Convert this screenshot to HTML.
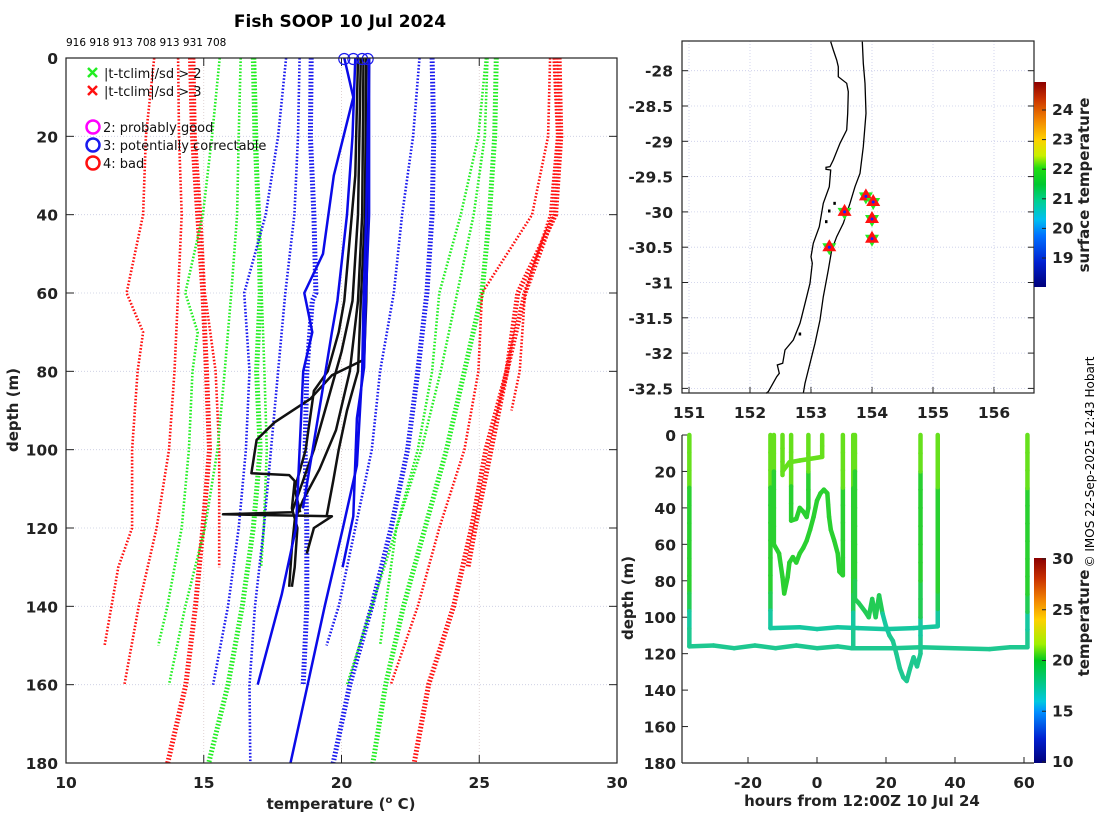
<!DOCTYPE html>
<html><head><meta charset="utf-8"><style>
html,body{margin:0;padding:0;background:#fff;}
svg{display:block;font-family:"DejaVu Sans","Liberation Sans",sans-serif;}
.tk{font-size:15.5px;font-weight:bold;fill:#222;}
.lb{font-size:15px;font-weight:bold;fill:#222;}
.lg{font-size:13px;fill:#111;}
</style></head><body>
<svg id="fig" width="1100" height="820" viewBox="0 0 1100 820" xmlns="http://www.w3.org/2000/svg">
<defs>
<linearGradient id="cbMap" x1="0" y1="1" x2="0" y2="0">
<stop offset="0" stop-color="#00007a"/><stop offset="0.12" stop-color="#0020d0"/><stop offset="0.25" stop-color="#0070ff"/><stop offset="0.33" stop-color="#00c0f0"/><stop offset="0.42" stop-color="#00d090"/><stop offset="0.5" stop-color="#00c830"/><stop offset="0.58" stop-color="#20dd10"/><stop offset="0.64" stop-color="#c8f000"/><stop offset="0.72" stop-color="#ffd000"/><stop offset="0.82" stop-color="#f08000"/><stop offset="0.92" stop-color="#c83000"/><stop offset="1" stop-color="#8b0000"/>
</linearGradient>
<linearGradient id="cbBot" x1="0" y1="1" x2="0" y2="0">
<stop offset="0" stop-color="#00007a"/><stop offset="0.12" stop-color="#0020d0"/><stop offset="0.25" stop-color="#0090ff"/><stop offset="0.3" stop-color="#00c8e0"/><stop offset="0.38" stop-color="#00c890"/><stop offset="0.5" stop-color="#00c820"/><stop offset="0.58" stop-color="#a0f000"/><stop offset="0.7" stop-color="#ffd000"/><stop offset="0.8" stop-color="#f08000"/><stop offset="0.9" stop-color="#c83000"/><stop offset="1" stop-color="#8b0000"/>
</linearGradient>
</defs>
<text x="340" y="27" text-anchor="middle" style="font-size:17px;font-weight:bold">Fish SOOP 10 Jul 2024</text>
<text x="66" y="46" style="font-size:10.5px">916 918 913 708 913 931 708</text>
<g id="left"></g>
<g id="map"></g>
<g id="bot"></g>
<text transform="translate(1094,462) rotate(-90)" text-anchor="middle" style="font-size:12px">© IMOS 22-Sep-2025 12:43 Hobart</text>
</svg>
<script>
// ---------- left profile plot data ----------
const climDepths = {
 R1:[0,20,40,60,70,80,100,120,130,150], R2:[0,20,40,60,80,100,120,140,160],
 R3:[0,20,40,60,80,100,120,140,160,180], R4:[0,20,40,60,80,100,120,130],
 G1:[0,20,40,60,70,80,100,120,140,150], G2:[0,20,40,60,80,100,120,140,160],
 G3:[0,20,40,60,80,100,120,140,160,180], G4:[0,40,80,100,120,130],
 B1:[0,20,40,60,80,100,120,140,160], B2:[0,20,40,60,80,100,120,140,160,180],
 B3:[0,20,40,60,62,80,100,120,140,160], B4:[0,20,40,60,80,100,120,140,150],
 B5:[0,20,40,60,80,100,120,140,160,180], G5:[0,20,40,60,80,100,120,140,150],
 G6:[0,20,40,60,80,100,120,140,160,180], G7:[0,20,40,60,80,100,120,140,160],
 RA:[0,20,40,60,80,90], RB:[0,20,40,60,80,100,120,130],
 RC:[0,20,40,60,80,100,120,140,160], RD:[0,20,40,60,80,100,120,140,160,180]
};
const climTemps = {
 R1:[13.2,12.9,12.8,12.2,12.8,12.6,12.4,12.4,11.9,11.4],
 R2:[14.07,14.1,14.2,14.07,13.94,13.74,13.29,12.64,12.12],
 R3:[14.52,14.59,14.78,14.97,15.1,15.21,14.97,14.7,14.35,13.69],
 R4:[14.65,14.7,14.9,15.04,15.43,15.56,15.56,15.56],
 G1:[15.58,15.3,14.97,14.33,14.78,14.59,14.46,14.2,13.68,13.35],
 G2:[16.34,16.27,16.21,16.0,15.76,15.5,15.04,14.33,13.74],
 G3:[16.8,16.86,16.99,17.05,16.92,17.05,16.8,16.4,15.88,15.18],
 G4:[16.86,17.0,17.2,17.29,17.18,17.08],
 B1:[17.99,17.7,17.25,16.47,16.66,16.53,16.27,15.88,15.34],
 B2:[18.48,18.42,18.29,17.96,17.7,17.44,17.18,16.86,16.66,16.69],
 B3:[18.9,18.87,19.0,19.07,18.94,18.74,18.68,18.74,18.74,18.61],
 B4:[22.83,22.6,22.2,21.9,21.4,21.1,20.5,19.9,19.46],
 B5:[23.29,23.35,23.29,23.1,22.77,22.4,21.8,21.1,20.3,19.7],
 G5:[25.24,24.97,24.33,23.55,23.29,22.77,21.99,21.6,21.4],
 G6:[25.62,25.56,25.37,25.1,24.46,23.81,23.03,22.25,21.6,21.14],
 G7:[25.3,25.2,24.8,24.2,23.6,22.9,22.0,21.1,20.2],
 RA:[27.7,27.83,27.57,26.66,26.47,26.17],
 RB:[27.9,27.96,27.77,26.4,26.0,25.43,24.85,24.59],
 RC:[27.57,27.5,26.92,25.1,24.97,24.46,23.55,22.77,21.79],
 RD:[27.77,27.9,27.7,26.66,26.0,25.24,24.72,24.07,23.16,22.64]
};
const bundleLines = ['R3','G3','B3','B5','G6','RB','RD'];
const flaggedDepths = {
 SB1:[0,10,30,50,60,70,80,100,120,137,160],
 SB2:[0,40,62,80,104,120,140,161,180],
 SB3:[0,20,40,62,70,87,115],
 SB4:[0,40,62,79,92,117,130]
};
const flaggedTemps = {
 SB1:[20.1,20.43,19.72,19.33,18.65,18.94,18.61,18.48,18.35,17.83,16.96],
 SB2:[21.0,20.9,20.8,20.75,20.56,20.05,19.39,18.74,18.15],
 SB3:[20.5,20.4,20.2,19.85,19.65,19.26,18.6],
 SB4:[21.0,21.0,20.88,20.82,20.56,20.43,20.04]
};
const goodDepths = {
 K1:[0,40,62,77,81,87,93,97.5,106,106.5,108,115,120,130,135],
 K2:[0,40,62,75,90,100,110,116,116.5,117,120,126.5],
 K3:[0,40,62,80,95,105,113,118,125,135],
 K4:[0,40,62,80,90,100,108,117],
 K5:[0,30,62,70,80,85,95,100,110,116]
};
const goodTemps = {
 K1:[21.0,20.95,20.9,20.82,19.65,18.87,17.57,16.92,16.73,18.1,18.3,18.2,18.4,18.3,18.2],
 K2:[20.7,20.6,20.4,20.0,19.4,19.0,18.5,18.2,15.7,19.65,19.0,18.74],
 K3:[20.8,20.75,20.6,20.3,19.8,19.2,18.6,18.3,18.2,18.1],
 K4:[20.9,20.85,20.7,20.6,20.2,19.9,19.7,19.46],
 K5:[20.6,20.5,20.1,19.9,19.5,19.0,18.8,18.7,18.3,18.5]
};
const surfaceFlagTemps = [20.1,20.43,20.75,20.95];
const tempTicks = [10,15,20,25,30];
const depthTicks = [0,20,40,60,80,100,120,140,160,180];

// ---------- map data ----------
const lonTicks = [151,152,153,154,155,156];
const latTicks = [-28,-28.5,-29,-29.5,-30,-30.5,-31,-31.5,-32,-32.5];
const stnLon = [153.3,153.55,153.9,154.02,154.0,154.0];
const stnLat = [-30.5,-30.0,-29.78,-29.86,-30.1,-30.38];
const sstTicks = [19,20,21,22,23,24];

// ---------- time-depth data ----------
const hourTicks = [-20,0,20,40,60];
const botDepthTicks = [0,20,40,60,80,100,120,140,160,180];
const botTempTicks = [10,15,20,25,30];
const trkHours = {
 S1:[-37,-37,-30,-24,-18,-12,-6,0,6,10,16,22,30,40,50,56,61,61],
 S2:[-13.5,-13.5,-5,0,6,12,20,28,35,35],
 S3:[-12.5,-12.5,-11,-10,-9.5,-8.5,-8,-7,-6,-5,-4,-3,-2,-1,0,1,2,3,3.5,4,5,6,6.5,7.5,7.5],
 S4:[-10,-10],
 S5:[-10,-8,-5,0,1.5,1.5],
 S6:[-7.5,-7.5,-6,-5,-4,-3,-2.5,-2.5],
 S7:[10.5,10.5],
 S8:[11,11,12,14,15,16,17,18,19,20,21,22,23,24,25,26,27,28,29,30,30]
};
const trkDepths = {
 S1:[0,116,115.5,117,115.5,117,115.5,117,116,117,117,117,116.5,117,117.5,116.5,116.5,0],
 S2:[0,106,105.5,106.5,105.5,106,106.5,106,105,0],
 S3:[0,60,65,78,87,78,70,67,70,65,62,58,52,45,36,32,30,32,45,52,58,65,75,77,0],
 S4:[0,22],
 S5:[20,15,14,12.5,12,0],
 S6:[0,47,46,40,42,45,40,0],
 S7:[0,117],
 S8:[0,90,92,97,100,90,100,88,98,105,110,113,120,128,133,135,128,122,127,120,0]
};

const NS='http://www.w3.org/2000/svg';
function mk(parent,tag,attrs,text){const e=document.createElementNS(NS,tag);for(const k in attrs)e.setAttribute(k,attrs[k]);if(text!==undefined)e.textContent=text;parent.appendChild(e);return e;}

// ===== left plot =====
const L=document.getElementById('left');
const LX0=66,LX1=617,LY0=58,LY1=763;
const tx=t=>LX0+(t-10)*(LX1-LX0)/20;
const dy=d=>LY0+d*(LY1-LY0)/180;
tempTicks.forEach(t=>{
 const g=mk(L,'line',{x1:tx(t),x2:tx(t),y1:LY0,y2:LY1,stroke:'#d8c8c8','stroke-width':0.8,'stroke-dasharray':'1,2'});
 
 
 const l=mk(L,'text',{x:tx(t),y:788,'text-anchor':'middle',class:'tk'},t);
 
 
 mk(L,'line',{x1:tx(t),x2:tx(t),y1:LY1,y2:LY1-8,stroke:'#222'});
 mk(L,'line',{x1:tx(t),x2:tx(t),y1:LY0,y2:LY0+8,stroke:'#222'});
});
depthTicks.forEach(d=>{
 const g=mk(L,'line',{x1:LX0,x2:LX1,y1:dy(d),y2:dy(d),stroke:'#c8cce0','stroke-width':0.8,'stroke-dasharray':'1,2'});
 
 
 const l=mk(L,'text',{x:58,y:dy(d)+6,'text-anchor':'end',class:'tk'},d);
 
 
 mk(L,'line',{x1:LX0,x2:LX0+8,y1:dy(d),y2:dy(d),stroke:'#222'});
 mk(L,'line',{x1:LX1,x2:LX1-8,y1:dy(d),y2:dy(d),stroke:'#222'});
});
const colFor={R:'#ff1010',G:'#22ee22',B:'#1a1aee'};
Object.keys(climTemps).forEach(k=>{
 const pts=climTemps[k].map((t,i)=>tx(t).toFixed(1)+','+dy(climDepths[k][i]).toFixed(1)).join(' ');
 const w=bundleLines.includes(k)?5:2.6;
 const p=mk(L,'polyline',{points:pts,fill:'none',stroke:colFor[k[0]],'stroke-width':w,'stroke-dasharray':'1.6,1.8'});
 
 
});
Object.keys(goodTemps).forEach(k=>{
 const pts=goodTemps[k].map((t,i)=>tx(t).toFixed(1)+','+dy(goodDepths[k][i]).toFixed(1)).join(' ');
 const p=mk(L,'polyline',{points:pts,fill:'none',stroke:'#111','stroke-width':2.5,'stroke-linejoin':'round'});
 
 
});
Object.keys(flaggedTemps).forEach(k=>{
 const pts=flaggedTemps[k].map((t,i)=>tx(t).toFixed(1)+','+dy(flaggedDepths[k][i]).toFixed(1)).join(' ');
 const p=mk(L,'polyline',{points:pts,fill:'none',stroke:'#0a0ae8','stroke-width':2.5,'stroke-linejoin':'round'});
 
 
});
surfaceFlagTemps.forEach(t=>{
 const c=mk(L,'circle',{cx:tx(t),cy:dy(0)+1,r:5.5,fill:'none',stroke:'#1a1aee','stroke-width':1.2});
 
 
});
mk(L,'rect',{x:LX0,y:LY0,width:LX1-LX0,height:LY1-LY0,fill:'none',stroke:'#222','stroke-width':1.2});
// legend
const lgd=mk(L,'g',{});


[[73,'#22ee22','|t-tclim|/sd > 2'],[91,'#ff1010','|t-tclim|/sd > 3']].forEach(r=>{
 mk(lgd,'path',{d:`M88 ${r[0]-5} l9 9 M97 ${r[0]-5} l-9 9`,stroke:r[1],'stroke-width':2.5});
 mk(lgd,'text',{x:104,y:r[0]+5,class:'lg'},r[2]);
});
[[127,'#ff00ff','2: probably good'],[145,'#1a1aee','3: potentially correctable'],[163,'#ff1010','4: bad']].forEach(r=>{
 mk(lgd,'circle',{cx:93,cy:r[0],r:6.5,fill:'none',stroke:r[1],'stroke-width':2.5});
 mk(lgd,'text',{x:103,y:r[0]+5,class:'lg'},r[2]);
});
let t1=mk(L,'text',{transform:'translate(18,410) rotate(-90)','text-anchor':'middle',class:'lb'},'depth (m)');

t1=mk(L,'text',{x:341,y:809,'text-anchor':'middle',class:'lb'});

t1.innerHTML='temperature (<tspan dy="-6" font-size="10">o</tspan><tspan dy="6"> C)</tspan>';

// ===== map =====
const M=document.getElementById('map');
const MX0=682,MX1=1034,MY0=41,MY1=393;
const lx=l=>689+(l-151)*61;
const ly=a=>70.7+(-28-a)*70.6;
lonTicks.forEach(l=>{
 mk(M,'line',{x1:lx(l),x2:lx(l),y1:MY0,y2:MY1,stroke:'#c8cce8','stroke-width':0.8,'stroke-dasharray':'1,2'});
 mk(M,'line',{x1:lx(l),x2:lx(l),y1:MY1,y2:MY1-6,stroke:'#222'});
 const t=mk(M,'text',{x:lx(l),y:418,'text-anchor':'middle',class:'tk'},l);
 
});
latTicks.forEach(a=>{
 mk(M,'line',{x1:MX0,x2:MX1,y1:ly(a),y2:ly(a),stroke:'#c8cce8','stroke-width':0.8,'stroke-dasharray':'1,2'});
 mk(M,'line',{x1:MX0,x2:MX0+6,y1:ly(a),y2:ly(a),stroke:'#222'});
 mk(M,'line',{x1:MX1,x2:MX1-6,y1:ly(a),y2:ly(a),stroke:'#222'});
 const t=mk(M,'text',{x:673,y:ly(a)+6,'text-anchor':'end',class:'tk'},a);
 
});
const coastZ=[[632,35],[640,60],[650,90],[655,110],[655,140],[680,160],[685,185],[683,250],[680,300],[660,340],[640,390],[630,410],[618,412],[618,418],[632,420],[628,470],[610,520],[598,590],[580,640],[573,680],[577,700],[570,760],[560,800],[545,860],[540,880],[520,930],[495,960],[488,1000],[472,1005],[478,1030],[470,1040],[445,1085],[438,1090]];
const shelfZ=[[727,35],[730,100],[735,160],[738,250],[730,350],[720,430],[705,470],[690,520],[670,580],[650,620],[635,660],[625,720],[610,800],[600,870],[585,940],[570,1000],[555,1060],[550,1090]];
const zp=a=>a.map(p=>(620+p[0]/3).toFixed(1)+','+(30+p[1]/3).toFixed(1)).join(' ');
let c1=mk(M,'polyline',{points:zp(coastZ),fill:'none',stroke:'#000','stroke-width':1.3});

c1=mk(M,'polyline',{points:zp(shelfZ),fill:'none',stroke:'#000','stroke-width':1.3});

[[643,520],[627,543],[618,575],[539,912]].forEach(p=>mk(M,'rect',{x:620+p[0]/3-1,y:30+p[1]/3-1.5,width:2.5,height:3,fill:'#000'}));
stnLon.forEach((lo,i)=>{
 const x=lx(lo),y=ly(stnLat[i]);
 const g=mk(M,'g',{});
 
 
 mk(g,'polygon',{points:`${x-7},${y-4} ${x+7},${y-4} ${x},${y+8}`,fill:'#22ee22'});
 mk(g,'polygon',{points:`${x-7},${y+4} ${x+7},${y+4} ${x},${y-8}`,fill:'#ff1010'});
 mk(g,'circle',{cx:x,cy:y,r:1.5,fill:'#1020ff'});
});
mk(M,'rect',{x:MX0,y:MY0,width:MX1-MX0,height:MY1-MY0,fill:'none',stroke:'#222','stroke-width':1.2});
const cbm=mk(M,'rect',{x:1034,y:82,width:12,height:205,fill:'url(#cbMap)'});

const sy=v=>110+(24-v)*29.6;
sstTicks.forEach(v=>{
 mk(M,'line',{x1:1046,x2:1042,y1:sy(v),y2:sy(v),stroke:'#222'});
 const t=mk(M,'text',{x:1052,y:sy(v)+5,class:'tk'},v);
 
});
t1=mk(M,'text',{transform:'translate(1089,185) rotate(-90)','text-anchor':'middle',class:'lb'},'surface temperature');


// ===== time-depth plot =====
const B=document.getElementById('bot');
const hx=h=>817+h*3.45;
const bdy=d=>435+d*(763-435)/180;
botDepthTicks.forEach(d=>{
 mk(B,'line',{x1:682,x2:688,y1:bdy(d),y2:bdy(d),stroke:'#222'});
 const t=mk(B,'text',{x:676,y:bdy(d)+6,'text-anchor':'end',class:'tk'},d);
 
});
hourTicks.forEach(h=>{
 mk(B,'line',{x1:hx(h),x2:hx(h),y1:763,y2:757,stroke:'#222'});
 const t=mk(B,'text',{x:hx(h),y:788,'text-anchor':'middle',class:'tk'},h);
 
});
function depthCol(d){if(d<25)return '#66e01c';if(d<85)return '#2ad030';if(d<100)return '#22cc55';if(d<110)return '#16c8a0';return '#1ec890';}
Object.keys(trkHours).forEach(k=>{
 const H=trkHours[k],D=trkDepths[k];
 const g=mk(B,'g',{});
 
 
 for(let i=0;i<H.length-1;i++){
  const d0=D[i],d1=D[i+1];
  const n=Math.max(1,Math.ceil(Math.abs(d1-d0)/10));
  for(let j=0;j<n;j++){
   const a=j/n,b=(j+1)/n;
   const ya=d0+(d1-d0)*a,yb=d0+(d1-d0)*b;
   const xa=H[i]+(H[i+1]-H[i])*a,xb=H[i]+(H[i+1]-H[i])*b;
   mk(g,'line',{x1:hx(xa),y1:bdy(ya),x2:hx(xb),y2:bdy(yb),stroke:depthCol((ya+yb)/2),'stroke-width':4.5,'stroke-linecap':'round'});
  }
 }
});
mk(B,'line',{x1:682,x2:682,y1:435,y2:763,stroke:'#222','stroke-width':1.2});
mk(B,'line',{x1:682,x2:1034,y1:763,y2:763,stroke:'#222','stroke-width':1.2});
const cbb=mk(B,'rect',{x:1034,y:558,width:12,height:205,fill:'url(#cbBot)'});

const by=v=>559+(30-v)*(762-559)/20;
botTempTicks.forEach(v=>{
 mk(B,'line',{x1:1046,x2:1042,y1:by(v),y2:by(v),stroke:'#222'});
 const t=mk(B,'text',{x:1052,y:by(v)+5,class:'tk'},v);
 
});
t1=mk(B,'text',{transform:'translate(1089,623) rotate(-90)','text-anchor':'middle',class:'lb'},'temperature');

t1=mk(B,'text',{transform:'translate(633,598) rotate(-90)','text-anchor':'middle',class:'lb'},'depth (m)');

t1=mk(B,'text',{x:862,y:806,'text-anchor':'middle',class:'lb'},'hours from 12:00Z 10 Jul 24');

</script>
</body></html>
